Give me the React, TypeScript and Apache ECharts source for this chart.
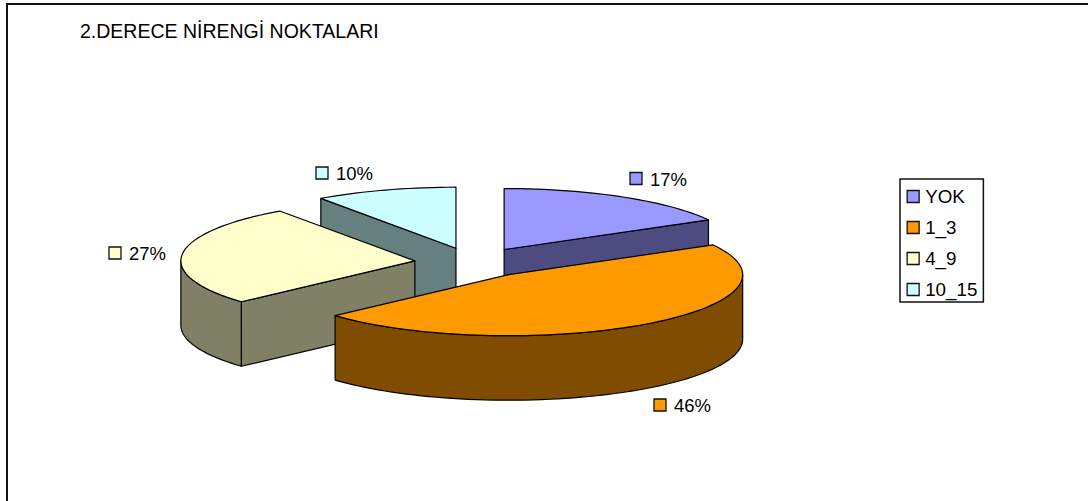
import React, { useEffect, useRef } from "react";
import * as echarts from "echarts";

const titleText = "2.DERECE NİRENGİ NOKTALARI";
const categories = ["YOK", "1_3", "4_9", "10_15"];
const values = [16.9, 46.4, 26.9, 9.8];
const topColors = ["#9999FF", "#FF9900", "#FFFFCC", "#CCFFFF"];
const sideColors = ["#4C4C80", "#804C00", "#808066", "#668080"];

const FONT = '"Liberation Sans", Arial, sans-serif';
const BASE = { x: 474, y: 262.5 };
const RX = 234;
const RY = 61;
const DEPTH = 64.5;
const EXPLODE_X = 59.5;
const EXPLODE_Y = 15;
const LABEL_ANCHORS = [
  { x: 630, y: 178.5 },
  { x: 654, y: 405 },
  { x: 109, y: 253 },
  { x: 316, y: 173 },
];
const DRAW_ORDER = [2, 4, 3, 2]; // z per slice

const total = values.reduce((a, b) => a + b, 0);
const startAngles = values.map((_, i) =>
  values.slice(0, i).reduce((a, b) => a + b, 0) / total * Math.PI * 2
);

function arcPoints(cx: number, cy: number, a0: number, a1: number) {
  const n = Math.max(2, Math.ceil(((a1 - a0) / (Math.PI * 2)) * 180));
  const out: number[][] = [];
  for (let k = 0; k <= n; k++) {
    const a = a0 + ((a1 - a0) * k) / n;
    out.push([cx + RX * Math.sin(a), cy - RY * Math.cos(a)]);
  }
  return out;
}

function makeRenderItem(i: number) {
  return (_params: any, api: any) => {
    const v = api.value(0) as number;
    const a0 = startAngles[i];
    const a1 = a0 + (v / total) * Math.PI * 2;
    const mid = (a0 + a1) / 2;
    const cx = BASE.x + EXPLODE_X * Math.sin(mid);
    const cy = BASE.y - EXPLODE_Y * Math.cos(mid);
    const line = { stroke: "#000", lineWidth: 1.2, lineJoin: "round" };
    const children: any[] = [];
    const face = (a: number) => {
      const p = [cx + RX * Math.sin(a), cy - RY * Math.cos(a)];
      children.push({
        type: "polygon",
        shape: { points: [[cx, cy], p, [p[0], p[1] + DEPTH], [cx, cy + DEPTH]] },
        style: { fill: sideColors[i], ...line },
      });
    };
    if (Math.sin(a0) < -1e-6) face(a0);
    if (Math.sin(a1) > 1e-6) face(a1);
    const r0 = Math.max(a0, Math.PI / 2);
    const r1 = Math.min(a1, (Math.PI * 3) / 2);
    if (r1 > r0) {
      const top = arcPoints(cx, cy, r0, r1);
      const bottom = top.map((p) => [p[0], p[1] + DEPTH]).reverse();
      children.push({
        type: "polygon",
        shape: { points: [...top, ...bottom] },
        style: { fill: sideColors[i], ...line },
      });
    }
    children.push({
      type: "polygon",
      shape: { points: [[cx, cy], ...arcPoints(cx, cy, a0, a1)] },
      style: { fill: topColors[i], ...line },
    });
    const anchor = LABEL_ANCHORS[i];
    children.push({
      type: "rect",
      shape: { x: anchor.x, y: anchor.y - 6, width: 12, height: 12 },
      style: { fill: topColors[i], stroke: "#111", lineWidth: 1.3 },
    });
    children.push({
      type: "text",
      style: {
        text: `${Math.round((v / total) * 100)}%`,
        x: anchor.x + 20,
        y: anchor.y + 0.5,
        fill: "#000",
        fontSize: 18.5,
        fontFamily: FONT,
        align: "left",
        verticalAlign: "middle",
      },
    });
    return { type: "group", children };
  };
}

export default function App() {
  const ref = useRef<HTMLDivElement>(null);
  useEffect(() => {
    const chart = echarts.init(ref.current!, undefined, { renderer: "svg" });
    chart.setOption({
      animation: false,
      backgroundColor: "#fff",
      title: {
        text: titleText,
        left: 80,
        top: 21,
        padding: 0,
        textStyle: { fontSize: 19.5, fontWeight: "normal", color: "#000", fontFamily: FONT },
      },
      legend: {
        orient: "vertical",
        left: 900,
        top: 179,
        padding: [8, 6, 3, 6.5],
        data: categories,
        icon: "rect",
        itemWidth: 12,
        itemHeight: 12,
        itemGap: 12,
        selectedMode: false,
        borderColor: "#111",
        borderWidth: 1.5,
        backgroundColor: "#fff",
        itemStyle: { borderColor: "#111", borderWidth: 1.3 },
        textStyle: {
          fontSize: 18.8,
          color: "#000",
          fontFamily: FONT,
          lineHeight: 19,
          padding: [0, 0, 0, 1],
        },
      },
      graphic: [
        {
          type: "polyline",
          silent: true,
          shape: { points: [[7, 505], [7, 4], [1095, 4]] },
          style: { stroke: "#111", lineWidth: 2, fill: "none" },
        },
      ],
      series: categories.map((name, i) => ({
        type: "custom",
        name,
        coordinateSystem: "none",
        silent: true,
        z: DRAW_ORDER[i],
        itemStyle: { color: topColors[i] },
        renderItem: makeRenderItem(i),
        data: [[values[i]]],
      })),
    });
    return () => chart.dispose();
  }, []);
  return (
    <div
      ref={ref}
      style={{ position: "absolute", left: 0, top: 0, width: 1088, height: 501 }}
    />
  );
}
